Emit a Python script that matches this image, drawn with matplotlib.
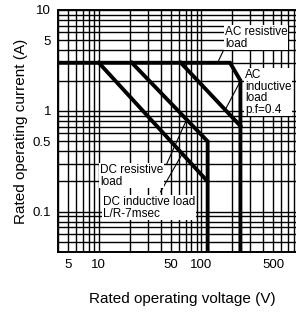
import matplotlib
matplotlib.use("Agg")
import matplotlib.pyplot as plt
from matplotlib.ticker import FixedLocator, NullFormatter, LogLocator

plt.rcParams['font.family'] = ['Liberation Sans', 'DejaVu Sans']

# Data (voltage V, current A)
ac_res_v = [4, 190, 240, 240]
ac_res_i = [3, 3, 2, 0.04]
ac_ind_v = [63, 240]
ac_ind_i = [3, 0.71]
dc_res_v = [21, 115, 115]
dc_res_i = [3, 0.5, 0.04]
dc_ind_v = [10, 115]
dc_ind_i = [3, 0.2]

xticks = [5, 10, 50, 100, 500]
xticklabels = ["5", "10", "50", "100", "500"]
yticks = [0.1, 0.5, 1, 5, 10]
yticklabels = ["0.1", "0.5", "1", "5", "10"]

fig = plt.figure(figsize=(2.96, 3.14), dpi=100)
ax = fig.add_axes([58/296, 62/314, (304-58)/296, (252-10)/314])
ax.set_xscale('log')
ax.set_yscale('log')
ax.set_xlim(4, 1000)
ax.set_ylim(0.04, 10)

ax.xaxis.set_major_locator(FixedLocator(xticks))
ax.set_xticklabels(xticklabels)
ax.yaxis.set_major_locator(FixedLocator(yticks))
ax.set_yticklabels(yticklabels)
ax.xaxis.set_minor_locator(LogLocator(base=10, subs=range(1, 10)))
ax.yaxis.set_minor_locator(LogLocator(base=10, subs=range(1, 10)))
ax.xaxis.set_minor_formatter(NullFormatter())
ax.yaxis.set_minor_formatter(NullFormatter())
ax.tick_params(which='both', length=0, labelsize=9.5, pad=5)
ax.grid(True, which='both', color='black', lw=1.0)
for s in ax.spines.values():
    s.set_linewidth(1.4)
ax.spines['right'].set_visible(False)

lw = 2.8
ax.plot(ac_res_v, ac_res_i, color='black', lw=lw, solid_joinstyle='miter', zorder=3)
ax.plot(ac_ind_v, ac_ind_i, color='black', lw=lw, zorder=3)
ax.plot(dc_res_v, dc_res_i, color='black', lw=lw, solid_joinstyle='miter', zorder=3)
ax.plot(dc_ind_v, dc_ind_i, color='black', lw=lw, zorder=3)

# leader lines
ax.plot([163, 146], [3.93, 3.1], color='black', lw=0.8, zorder=3)
ax.plot([240, 171], [1.98, 1.03], color='black', lw=0.8, zorder=3)
ax.plot([46, 71.5], [0.30, 0.815], color='black', lw=0.8, zorder=3)
ax.plot([40, 65], [0.158, 0.375], color='black', lw=0.8, zorder=3)

bb = dict(facecolor='white', edgecolor='none', pad=0.6)
fs = 8.5

def ftext(xp, yp, s, **kw):
    fig.text(xp/296, 1 - yp/314, s, fontsize=fs, ha='left', va='top',
             linespacing=0.95, bbox=bb, zorder=5, **kw)

ftext(225, 26, "AC resistive\nload")
ftext(245, 69, "AC\ninductive\nload\np.f=0.4")
ftext(100, 164, "DC resistive\nload")
ftext(103, 196, "DC inductive load\nL/R-7msec")

ax.set_xlabel("Rated operating voltage (V)", fontsize=11)
ax.set_ylabel("Rated operating current (A)", fontsize=11)
ax.xaxis.set_label_coords((182-58)/(304-58), -(292-252)/(252-10))
ax.yaxis.set_label_coords(-(58-28)/(304-58), 0.5)

fig.savefig("out.png", dpi=100)
